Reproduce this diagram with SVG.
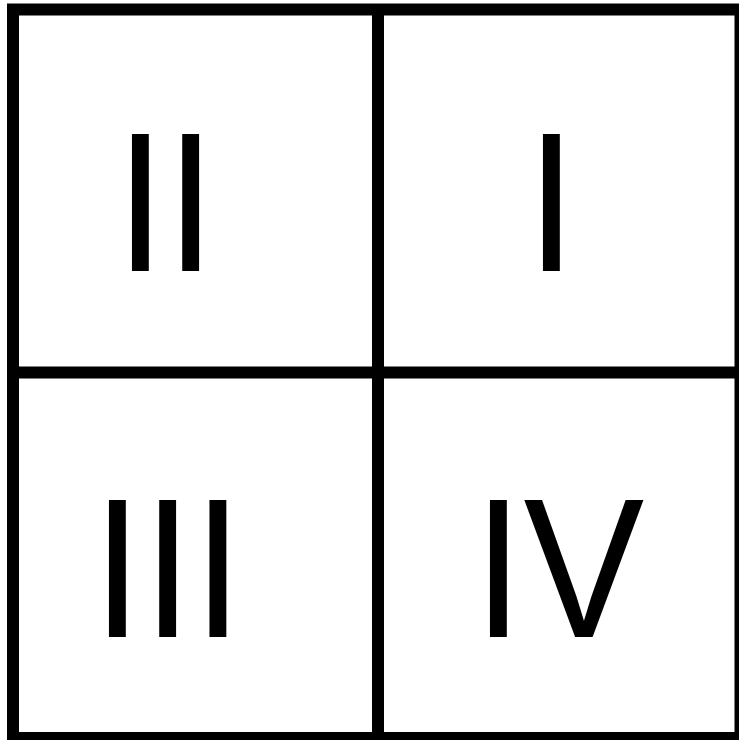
<svg xmlns="http://www.w3.org/2000/svg" width="739" height="740" viewBox="0 0 739 740">
  <style>
    .lbl { font-family: "Liberation Sans", Arial, sans-serif; font-size: 181px; fill: #000; }
    .ln { stroke: #000; stroke-width: 12; fill: none; }
  </style>
  <rect x="0" y="0" width="739" height="740" fill="#fff"/>
  <g id="connectors">
    <rect class="ln" x="13" y="9.5" width="727.5" height="728.5"/>
    <line class="ln" x1="378" y1="9.5" x2="378" y2="738"/>
    <line class="ln" x1="13" y1="372.5" x2="740.5" y2="372.5"/>
  </g>
  <g id="q2">
    <text class="lbl" transform="translate(115.2,271) scale(1,1.096)">II</text>
  </g>
  <g id="q1">
    <text class="lbl" transform="translate(526.2,271) scale(1,1.096)">I</text>
  </g>
  <g id="q3">
    <text class="lbl" transform="translate(92.2,637) scale(1,1.096)">III</text>
  </g>
  <g id="q4">
    <text class="lbl" transform="translate(473.2,637) scale(1,1.096)">IV</text>
  </g>
</svg>
